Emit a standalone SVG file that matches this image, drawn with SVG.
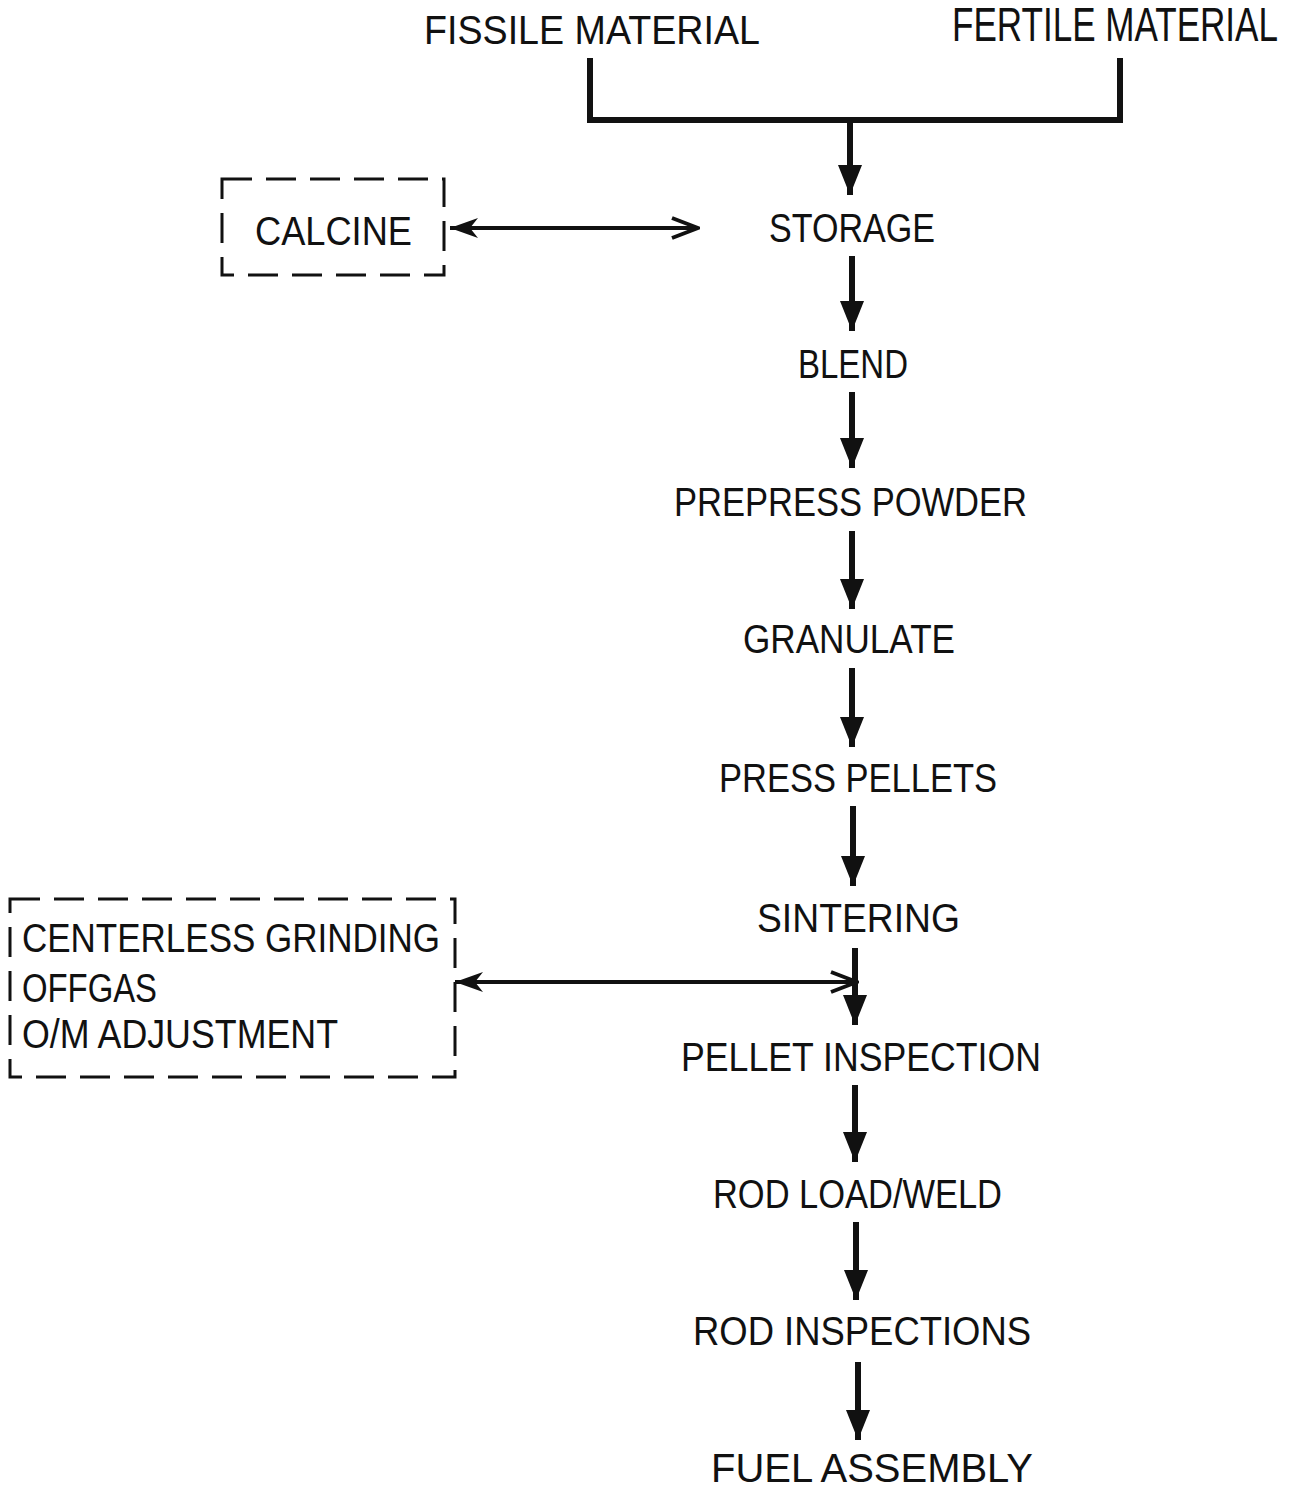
<svg xmlns="http://www.w3.org/2000/svg" width="1304" height="1491" viewBox="0 0 1304 1491">
<style>
text{font-family:"Liberation Sans","DejaVu Sans",sans-serif;font-size:40px;fill:#111}
.shaft{stroke:#111;stroke-width:6;fill:none}
.thin{stroke:#111;stroke-width:4;fill:none}
.dash{stroke:#111;stroke-width:3;fill:none;stroke-dasharray:30 14}
</style>
<defs>
<marker id="down" viewBox="0 0 30 24" refX="30" refY="12" markerWidth="30" markerHeight="24" markerUnits="userSpaceOnUse" orient="auto">
<path d="M0,0 L30,12 L0,24 Z" fill="#111"/>
</marker>
<marker id="ah" viewBox="0 0 30 24" refX="28" refY="12" markerWidth="30" markerHeight="24" markerUnits="userSpaceOnUse" orient="auto-start-reverse">
<path d="M2,2 L28,12 L2,22" fill="none" stroke="#111" stroke-width="4"/>
</marker>
<marker id="ahf" viewBox="0 0 30 24" refX="28" refY="12" markerWidth="30" markerHeight="24" markerUnits="userSpaceOnUse" orient="auto-start-reverse">
<path d="M0,2 L28,12 L0,22 L8,12 Z" fill="#111"/>
</marker>
</defs>
<g id="fissile"><text x="424" y="44" textLength="336" lengthAdjust="spacingAndGlyphs">FISSILE MATERIAL</text></g>
<g id="fertile"><text transform="translate(952,41) scale(1,1.2)" x="0" y="0" font-size="32" textLength="326" lengthAdjust="spacingAndGlyphs">FERTILE MATERIAL</text></g>
<g id="calcine">
<rect class="dash" x="222" y="179" width="222" height="96"/>
<text x="255" y="245" textLength="157" lengthAdjust="spacingAndGlyphs">CALCINE</text>
</g>
<g id="storage"><text x="769" y="242" textLength="166" lengthAdjust="spacingAndGlyphs">STORAGE</text></g>
<g id="blend"><text x="798" y="378" textLength="110" lengthAdjust="spacingAndGlyphs">BLEND</text></g>
<g id="prepress"><text x="674" y="516" textLength="353" lengthAdjust="spacingAndGlyphs">PREPRESS POWDER</text></g>
<g id="granulate"><text x="743" y="653" textLength="212" lengthAdjust="spacingAndGlyphs">GRANULATE</text></g>
<g id="press"><text x="719" y="792" textLength="278" lengthAdjust="spacingAndGlyphs">PRESS PELLETS</text></g>
<g id="sintering"><text x="757" y="932" textLength="203" lengthAdjust="spacingAndGlyphs">SINTERING</text></g>
<g id="grinding">
<rect class="dash" x="10" y="899" width="445" height="178"/>
<text x="22" y="952" textLength="418" lengthAdjust="spacingAndGlyphs">CENTERLESS GRINDING</text>
<text x="22" y="1002" textLength="135" lengthAdjust="spacingAndGlyphs">OFFGAS</text>
<text x="22" y="1048" textLength="316" lengthAdjust="spacingAndGlyphs">O/M ADJUSTMENT</text>
</g>
<g id="pelletinsp"><text x="681" y="1071" textLength="360" lengthAdjust="spacingAndGlyphs">PELLET INSPECTION</text></g>
<g id="rodload"><text x="713" y="1208" textLength="289" lengthAdjust="spacingAndGlyphs">ROD LOAD/WELD</text></g>
<g id="rodinsp"><text x="693" y="1345" textLength="338" lengthAdjust="spacingAndGlyphs">ROD INSPECTIONS</text></g>
<g id="fuel"><text x="711" y="1482" font-size="38" textLength="322" lengthAdjust="spacingAndGlyphs">FUEL ASSEMBLY</text></g>
<g id="connectors">
<path class="shaft" d="M590,58 V120 H1120 V58"/>
<path class="shaft" d="M850,120 V195" marker-end="url(#down)"/>
<path class="thin" d="M450,228 H698" marker-start="url(#ahf)" marker-end="url(#ah)"/>
<path class="shaft" d="M852,256 V331" marker-end="url(#down)"/>
<path class="shaft" d="M852,392 V468" marker-end="url(#down)"/>
<path class="shaft" d="M852,531 V609" marker-end="url(#down)"/>
<path class="shaft" d="M852,668 V747" marker-end="url(#down)"/>
<path class="shaft" d="M853,806 V886" marker-end="url(#down)"/>
<path class="shaft" d="M855,948 V1025" marker-end="url(#down)"/>
<path class="thin" d="M455,982 H857" marker-start="url(#ahf)" marker-end="url(#ah)"/>
<path class="shaft" d="M855,1085 V1162" marker-end="url(#down)"/>
<path class="shaft" d="M856,1222 V1300" marker-end="url(#down)"/>
<path class="shaft" d="M858,1362 V1440" marker-end="url(#down)"/>
</g>
</svg>
